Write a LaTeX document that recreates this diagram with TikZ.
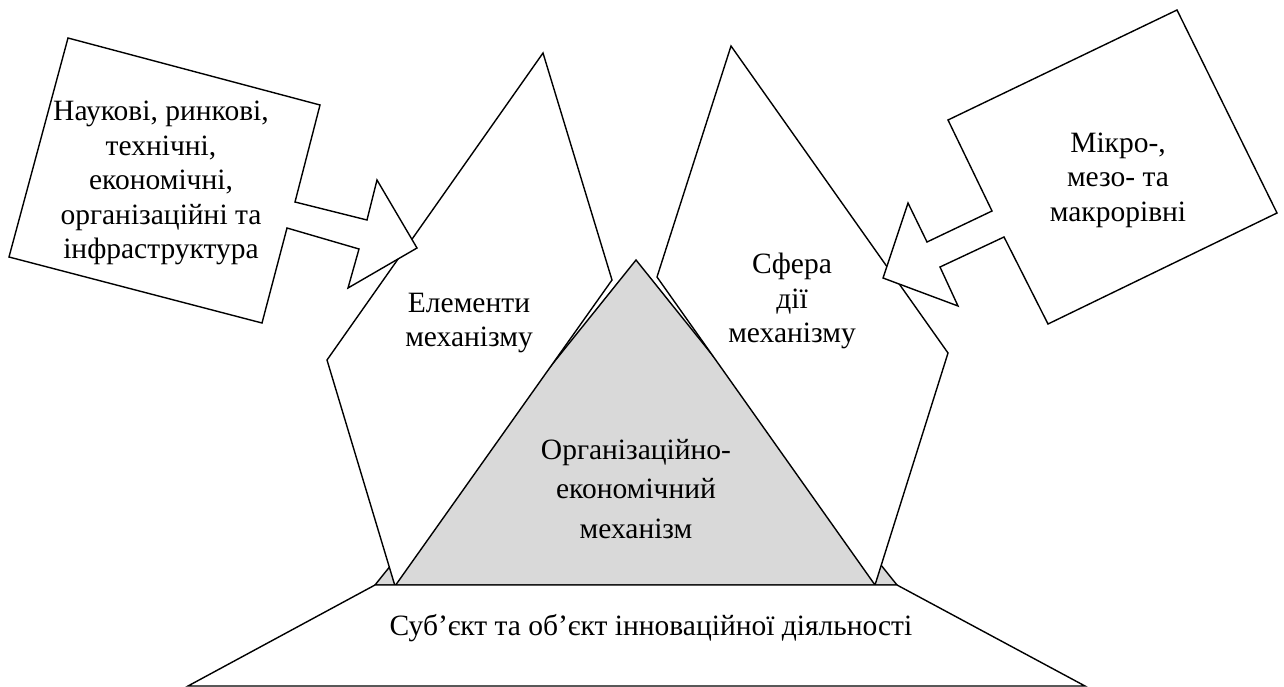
\documentclass[tikz,border=0pt]{standalone}
\usepackage{fontspec}
\setmainfont{Liberation Serif}
\definecolor{trigrey}{RGB}{217,217,217}
\begin{document}
\begin{tikzpicture}[x=1pt,y=-1pt,
  shp/.style={draw=black, line width=1.4pt, line join=miter, fill=white},
  lbl/.style={font=\fontsize{29.5}{34.5}\selectfont, align=center, inner sep=0pt}]
\useasboundingbox (0,0) rectangle (1284,687);
% grey triangle
\draw[shp, fill=trigrey] (636,260) -- (897,585) -- (375,585) -- cycle;
% left and right arrow-shaped quadrilaterals
\draw[shp] (543,53) -- (612,280) -- (395,586) -- (327,360) -- cycle;
\draw[shp] (731,46) -- (948,353) -- (875,585) -- (657,277) -- cycle;
% base trapezoid
\draw[shp] (375,585) -- (897,585) -- (1085,686) -- (188,686) -- cycle;
% left callout box with arrow
\draw[shp] (68,38) -- (320,105) -- (295,202) -- (367,220) -- (377,180) -- (417,248)
  -- (348,288) -- (359,249) -- (287,228) -- (262,323) -- (9,257) -- cycle;
% right callout box with arrow
\draw[shp] (1177,10) -- (1277,213) -- (1048,324) -- (1004,237) -- (940,267) -- (958,306)
  -- (883,278) -- (908,203) -- (927,242) -- (992,211) -- (948,120) -- cycle;
% texts
\node[lbl] (tleft) at (161,183) {Наукові, ринкові,\\технічні,\\економічні,\\організаційні та\\інфраструктура};
\node[lbl] (tright) at (1118,180) {Мікро-,\\мезо- та\\макрорівні};
\node[lbl] (telem) at (469,323) {Елементи\\механізму};
\node[lbl] (tsfera) at (792,301) {Сфера\\дії\\механізму};
\node[lbl, font=\fontsize{29.5}{39.5}\selectfont] (ttri) at (636,489) {Організаційно-\\економічний\\механізм};
\node[lbl, anchor=base] (tbase) at (651,635) {Суб’єкт та об’єкт інноваційної діяльності};
\end{tikzpicture}
\end{document}
